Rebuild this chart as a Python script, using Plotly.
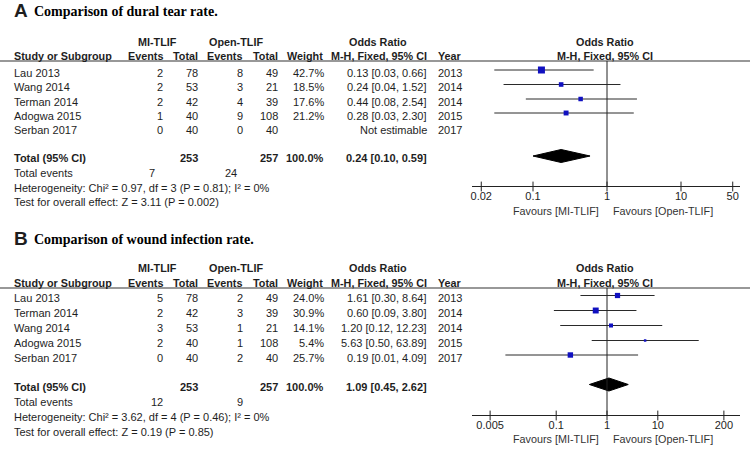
import math
import plotly.graph_objects as go

# ---------------- DATA ----------------
# Panel A: dural tear
a_title = "Comparison of dural tear rate."
a_studies = ["Lau 2013", "Wang 2014", "Terman 2014", "Adogwa 2015", "Serban 2017"]
a_mi_events = [2, 2, 2, 1, 0]
a_mi_total = [78, 53, 42, 40, 40]
a_op_events = [8, 3, 4, 9, 0]
a_op_total = [49, 21, 39, 108, 40]
a_weight = [42.7, 18.5, 17.6, 21.2, None]
a_or = [0.13, 0.24, 0.44, 0.28, None]
a_lo = [0.03, 0.04, 0.08, 0.03, None]
a_hi = [0.66, 1.52, 2.54, 2.30, None]
a_year = [2013, 2014, 2014, 2015, 2017]
a_sum_totals = [253, 257]
a_sum_or = [0.24, 0.10, 0.59]
a_sum_events = [7, 24]
a_het = "Heterogeneity: Chi² = 0.97, df = 3 (P = 0.81); I² = 0%"
a_test = "Test for overall effect: Z = 3.11 (P = 0.002)"
a_ticks = [0.02, 0.1, 1, 10, 50]
a_ticklabels = ["0.02", "0.1", "1", "10", "50"]

# Panel B: wound infection
b_title = "Comparison of wound infection rate."
b_studies = ["Lau 2013", "Terman 2014", "Wang 2014", "Adogwa 2015", "Serban 2017"]
b_mi_events = [5, 2, 3, 2, 0]
b_mi_total = [78, 42, 53, 40, 40]
b_op_events = [2, 3, 1, 1, 2]
b_op_total = [49, 39, 21, 108, 40]
b_weight = [24.0, 30.9, 14.1, 5.4, 25.7]
b_or = [1.61, 0.60, 1.20, 5.63, 0.19]
b_lo = [0.30, 0.09, 0.12, 0.50, 0.01]
b_hi = [8.64, 3.80, 12.23, 63.89, 4.09]
b_year = [2013, 2014, 2014, 2015, 2017]
b_sum_totals = [253, 257]
b_sum_or = [1.09, 0.45, 2.62]
b_sum_events = [12, 9]
b_het = "Heterogeneity: Chi² = 3.62, df = 4 (P = 0.46); I² = 0%"
b_test = "Test for overall effect: Z = 0.19 (P = 0.85)"
b_ticks = [0.005, 0.1, 1, 10, 200]
b_ticklabels = ["0.005", "0.1", "1", "10", "200"]

# ---------------- LAYOUT / STYLE ----------------
W, H = 753, 451
SANS = "Liberation Sans, Arial, sans-serif"
SERIF = "Liberation Serif, Times New Roman, serif"
TXT = "#1e1e1e"
BLUE = "#1010c0"
FS = 11
FH = 10.8
PLOT_L, PLOT_R = 472, 740
CENTER = 607

fig = go.Figure()
annotations = []
shapes = []


def py(y):
    return 1 - y / H


def txt(x, y, s, anchor="left", bold=False, size=FS, family=SANS, color=TXT):
    annotations.append(dict(
        x=x / W, y=py(y), xref="paper", yref="paper", text=("<b>%s</b>" % s) if bold else s,
        showarrow=False, xanchor=anchor, yanchor="middle",
        font=dict(family=family, size=size, color=color), borderpad=0))


def fmt_or(o, l, h):
    if o is None:
        return "Not estimable"
    return "%.2f [%.2f, %.2f]" % (o, l, h)


def panel(letter, title, studies, mie, mit, ope, opt, wt, ors, lo, hi, yr,
          sum_tot, sum_or, sum_ev, het, test, ticks, ticklabels,
          xname, axkey, px_per_dec, Y, ev_x):
    # title
    txt(13, Y["title"], letter, bold=True, size=19)
    txt(33, Y["title"] + 1, title, bold=True, size=14, family=SERIF, color="#000")
    # headers
    txt(157, Y["h1"], "MI-TLIF", "center", True, FH)
    txt(236, Y["h1"], "Open-TLIF", "center", True, FH)
    txt(378, Y["h1"], "Odds Ratio", "center", True, FH)
    txt(CENTER - 2, Y["h1"], "Odds Ratio", "center", True, FH)
    txt(13, Y["h2"], "Study or Subgroup", "left", True, FH)
    txt(164, Y["h2"], "Events", "right", True, FH)
    txt(199, Y["h2"], "Total", "right", True, FH)
    txt(243, Y["h2"], "Events", "right", True, FH)
    txt(279, Y["h2"], "Total", "right", True, FH)
    txt(324, Y["h2"], "Weight", "right", True, FH)
    txt(428, Y["h2"], "M-H, Fixed, 95% CI", "right", True, FH)
    txt(463, Y["h2"], "Year", "right", True, FH)
    txt(CENTER - 2, Y["h2"], "M-H, Fixed, 95% CI", "center", True, FH)
    shapes.append(dict(type="line", xref="paper", yref="paper", x0=0, x1=750 / W,
                       y0=py(Y["line"]), y1=py(Y["line"]), line=dict(color="#333", width=1.2)))
    # rows
    for i, s in enumerate(studies):
        y = Y["rows"][i]
        txt(13, y, s)
        txt(164, y, str(mie[i]), "right")
        txt(199, y, str(mit[i]), "right")
        txt(244, y, str(ope[i]), "right")
        txt(279, y, str(opt[i]), "right")
        if wt[i] is not None:
            txt(325, y, "%.1f%%" % wt[i], "right")
        txt(428, y, fmt_or(ors[i], lo[i], hi[i]), "right")
        txt(463, y, str(yr[i]), "right")
    # totals
    txt(13, Y["total"], "Total (95% CI)", bold=True)
    txt(199, Y["total"], str(sum_tot[0]), "right", True)
    txt(279, Y["total"], str(sum_tot[1]), "right", True)
    txt(325, Y["total"], "100.0%", "right", True)
    txt(428, Y["total"], fmt_or(*sum_or), "right", True)
    txt(13, Y["tev"], "Total events")
    txt(ev_x[0], Y["tev"], str(sum_ev[0]), "right")
    txt(ev_x[1], Y["tev"], str(sum_ev[1]), "right")
    txt(13, Y["het"], het)
    txt(13, Y["test"], test)

    # forest plot
    off = 2.5
    for i in range(len(studies)):
        if ors[i] is None:
            continue
        y = Y["rows"][i] - off
        fig.add_trace(go.Scatter(x=[lo[i], hi[i]], y=[y, y], mode="lines",
                                 line=dict(color="#2a2a2a", width=1), xaxis=xname, yaxis="y",
                                 hoverinfo="skip", showlegend=False))
        fig.add_trace(go.Scatter(x=[ors[i]], y=[y], mode="markers",
                                 marker=dict(symbol="square", size=max(2.2, 1.07 * math.sqrt(wt[i])),
                                             color=BLUE, line=dict(width=0)),
                                 xaxis=xname, yaxis="y", hoverinfo="skip", showlegend=False))
    yd = Y["total"] - 2
    hd = 6.5
    fig.add_trace(go.Scatter(x=[sum_or[1], sum_or[0], sum_or[2], sum_or[0], sum_or[1]],
                             y=[yd, yd - hd, yd, yd + hd, yd], mode="lines", fill="toself",
                             fillcolor="#000", line=dict(color="#000", width=1),
                             xaxis=xname, yaxis="y", hoverinfo="skip", showlegend=False))
    # tick crosses through the axis line
    fig.add_trace(go.Scatter(x=ticks, y=[Y["axis"] + 0.5] * len(ticks), mode="markers",
                             marker=dict(symbol="line-ns", size=7, line=dict(color="#222", width=1)),
                             xaxis=xname, yaxis="y", hoverinfo="skip", showlegend=False))
    # vertical line at 1
    shapes.append(dict(type="line", xref=xname, yref="y", x0=1, x1=1, y0=Y["line"], y1=Y["axis"],
                       line=dict(color="#222", width=1)))
    # favours
    txt(600, Y["fav"], "Favours [MI-TLIF]", "right", size=10.8, color="#333")
    txt(612, Y["fav"], "Favours [Open-TLIF]", "left", size=10.8, color="#333")

    lo_log = (PLOT_L - CENTER) / px_per_dec
    hi_log = (PLOT_R - CENTER) / px_per_dec
    fig.layout[axkey] = dict(
        type="log", domain=[PLOT_L / W, PLOT_R / W], range=[lo_log, hi_log],
        anchor="free", position=py(Y["axis"]), showline=True, linecolor="#222", linewidth=1,
        ticks="", tickvals=ticks, ticktext=ticklabels, showgrid=False, zeroline=False,
        tickfont=dict(family=SANS, size=FS, color=TXT), fixedrange=True)


YA = dict(title=10, h1=42, h2=56, line=61, rows=[72.5, 87, 101.5, 115.5, 130],
          total=158, tev=173, het=187.5, test=202, axis=186, fav=210.5)
YB = dict(title=238, h1=268, h2=283, line=288, rows=[298, 313, 328, 343, 357.5],
          total=386.5, tev=401.5, het=416.5, test=431.5, axis=415, fav=438.5)

panel("A", a_title, a_studies, a_mi_events, a_mi_total, a_op_events, a_op_total, a_weight,
      a_or, a_lo, a_hi, a_year, a_sum_totals, a_sum_or, a_sum_events, a_het, a_test,
      a_ticks, a_ticklabels, "x", "xaxis", 74.0, YA, (156, 238))
panel("B", b_title, b_studies, b_mi_events, b_mi_total, b_op_events, b_op_total, b_weight,
      b_or, b_lo, b_hi, b_year, b_sum_totals, b_sum_or, b_sum_events, b_het, b_test,
      b_ticks, b_ticklabels, "x2", "xaxis2", 50.8, YB, (164, 244))

fig.update_layout(
    width=W, height=H, autosize=False, margin=dict(l=0, r=0, t=0, b=0),
    paper_bgcolor="white", plot_bgcolor="rgba(0,0,0,0)",
    yaxis=dict(domain=[0, 1], range=[H, 0], visible=False, fixedrange=True),
    annotations=annotations, shapes=shapes, showlegend=False,
)
fig.write_html("out.html", config={"displayModeBar": False, "staticPlot": True},
               post_script="document.body.style.margin='0px';document.body.style.overflow='hidden';")
